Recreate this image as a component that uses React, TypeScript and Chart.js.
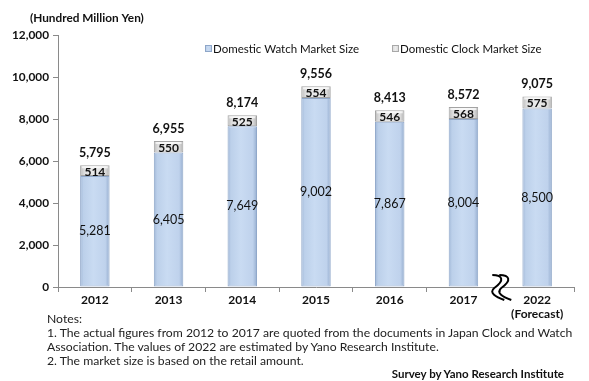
import React, { useEffect, useRef } from "react";
import { Chart, registerables } from "chart.js";

Chart.register(...registerables);

const categories: (string | string[])[] = ["2012", "2013", "2014", "2015", "2016", "2017", ["2022", "(Forecast)"]];
const watchValues = [5281, 6405, 7649, 9002, 7867, 8004, 8500];
const clockValues = [514, 550, 525, 554, 546, 568, 575];
const totalValues = [5795, 6955, 8174, 9556, 8413, 8572, 9075];
const seriesNames = ["Domestic Watch Market Size", "Domestic Clock Market Size"];
const yMin = 0;
const yMax = 12000;
const yStep = 2000;
const yAxisTitle = "(Hundred Million Yen)";
const notes = [
  "Notes:",
  "1. The actual figures from 2012 to 2017 are quoted from the documents in Japan Clock and Watch",
  "Association. The values of 2022 are estimated by Yano Research Institute.",
  "2. The market size is based on the retail amount.",
];
const source = "Survey by Yano Research Institute";

const FONT = "Lato, 'DejaVu Sans', sans-serif";

function fmt(n: number) {
  return n.toLocaleString("en-US");
}

function makeGradient(chart: any, index: number, stops: [number, string][], fallback: string) {
  const xs = chart.scales && chart.scales.x;
  if (!xs || !chart.chartArea) return fallback;
  const cx = xs.getPixelForValue(index);
  const half = 15;
  const g = chart.ctx.createLinearGradient(cx - half, 0, cx + half, 0);
  stops.forEach(([p, c]) => g.addColorStop(p, c));
  return g;
}

const blueStops: [number, string][] = [
  [0, "#9fb6d6"],
  [0.12, "#bcd0ea"],
  [0.45, "#c9dbf2"],
  [0.85, "#bfd2ec"],
  [1, "#93abcd"],
];
const grayStops: [number, string][] = [
  [0, "#b9b9b9"],
  [0.15, "#dedede"],
  [0.5, "#ececec"],
  [0.85, "#dcdcdc"],
  [1, "#adadad"],
];

const labelsPlugin = {
  id: "customLabels",
  afterDatasetsDraw(chart: any) {
    const ctx = chart.ctx;
    const m0 = chart.getDatasetMeta(0);
    const m1 = chart.getDatasetMeta(1);
    ctx.save();
    ctx.textAlign = "center";
    ctx.textBaseline = "middle";
    ctx.fillStyle = "#111";
    m0.data.forEach((bar: any, i: number) => {
      ctx.font = `12.5px ${FONT}`;
      ctx.fillText(fmt(watchValues[i]), bar.x, (bar.y + bar.base) / 2);
    });
    m1.data.forEach((bar: any, i: number) => {
      ctx.fillStyle = "rgba(255,255,255,0.7)";
      ctx.fillRect(bar.x - 13, bar.y + 1, 26, 2);
      ctx.fillStyle = "#111";
      ctx.font = `bold 12px ${FONT}`;
      ctx.fillText(fmt(clockValues[i]), bar.x, (bar.y + bar.base) / 2 + 1);
      ctx.font = `bold 12.5px ${FONT}`;
      ctx.fillText(fmt(totalValues[i]), bar.x, bar.y - 12);
    });
    ctx.restore();
  },
  afterDraw(chart: any) {
    const ctx = chart.ctx;
    ctx.save();
    ctx.fillStyle = "#111";
    ctx.font = `bold 11.8px ${FONT}`;
    ctx.textAlign = "left";
    ctx.textBaseline = "middle";
    ctx.fillText(yAxisTitle, 30, 18);
    const legendItems = [
      { x: 205, text: seriesNames[0], stops: blueStops, border: "#8ea6c8" },
      { x: 392, text: seriesNames[1], stops: grayStops, border: "#a8a8a8" },
    ];
    legendItems.forEach((it) => {
      const g = ctx.createLinearGradient(it.x, 0, it.x + 7, 0);
      it.stops.forEach(([p, c]) => g.addColorStop(p, c));
      ctx.fillStyle = g;
      ctx.fillRect(it.x, 45, 7, 7);
      ctx.strokeStyle = it.border;
      ctx.lineWidth = 1;
      ctx.strokeRect(it.x + 0.5, 45.5, 6, 6);
      ctx.fillStyle = "#111";
      ctx.font = `11.5px ${FONT}`;
      ctx.fillText(it.text, it.x + 8, 49);
    });
    // axis break symbol between the last two categories
    const xs = chart.scales.x;
    const bx = (xs.getPixelForValue(5) + xs.getPixelForValue(6)) / 2 - 2;
    const by = chart.chartArea.bottom;
    const curve = (dx: number) => {
      ctx.beginPath();
      ctx.moveTo(bx - 6 + dx, by - 12);
      ctx.bezierCurveTo(bx + 4 + dx, by - 12, bx + 7 + dx, by - 7, bx - 4 + dx, by + 1);
      ctx.bezierCurveTo(bx - 10 + dx, by + 6, bx - 2 + dx, by + 10, bx + 6 + dx, by + 13);
    };
    ctx.fillStyle = "#fff";
    ctx.fillRect(bx - 2, by - 2, 6, 4);
    ctx.strokeStyle = "#000";
    ctx.lineWidth = 2;
    curve(0);
    ctx.stroke();
    curve(7);
    ctx.stroke();
    ctx.restore();
  },
};

export default function App() {
  const ref = useRef<HTMLCanvasElement | null>(null);
  useEffect(() => {
    if (!ref.current) return;
    const chart = new Chart(ref.current, {
      type: "bar",
      data: {
        labels: categories as any,
        datasets: [
          {
            label: seriesNames[0],
            data: watchValues,
            backgroundColor: (c: any) => makeGradient(c.chart, c.dataIndex, blueStops, "#c5d8f0"),
            borderColor: "#90a8ca",
            borderWidth: 1,
            borderSkipped: false,
            barPercentage: 0.4,
            categoryPercentage: 1,
          },
          {
            label: seriesNames[1],
            data: clockValues,
            backgroundColor: (c: any) => makeGradient(c.chart, c.dataIndex, grayStops, "#e3e3e3"),
            borderColor: "#a3a3a3",
            borderWidth: 1,
            borderSkipped: false,
            barPercentage: 0.4,
            categoryPercentage: 1,
          },
        ],
      },
      options: {
        animation: false,
        responsive: false,
        maintainAspectRatio: false,
        layout: { padding: { left: 0, right: 15, top: 35, bottom: 54 } },
        plugins: {
          legend: { display: false },
          tooltip: { enabled: false },
        },
        scales: {
          x: {
            stacked: true,
            grid: {
              display: true,
              drawOnChartArea: false,
              drawTicks: true,
              tickLength: 5,
              color: "#8a8a8a",
              offset: true,
            },
            border: { display: true, color: "#8a8a8a", width: 1 },
            ticks: {
              color: "#111",
              font: { family: FONT, size: 12, weight: "bold", lineHeight: 1.1 },
              padding: 2,
              maxRotation: 0,
            },
            afterFit: (s: any) => {
              s.height = 40;
            },
          },
          y: {
            stacked: true,
            min: yMin,
            max: yMax,
            grid: {
              display: true,
              drawOnChartArea: false,
              drawTicks: true,
              tickLength: 5,
              color: "#8a8a8a",
            },
            border: { display: true, color: "#8a8a8a", width: 1 },
            ticks: {
              stepSize: yStep,
              color: "#111",
              padding: 4,
              font: { family: FONT, size: 11.8, weight: "bold" },
              callback: (v: any) => fmt(Number(v)),
            },
            afterFit: (s: any) => {
              s.width = 58;
            },
          },
        },
      },
      plugins: [labelsPlugin],
    });
    return () => chart.destroy();
  }, []);

  const noteStyle: React.CSSProperties = {
    position: "absolute",
    left: 47,
    whiteSpace: "nowrap",
    fontFamily: FONT,
    fontSize: 12.2,
    color: "#222",
    lineHeight: "14px",
  };

  return (
    <div style={{ position: "absolute", left: 0, top: 0, width: 589, height: 381, background: "#fff", overflow: "hidden" }}>
      <canvas ref={ref} width={589} height={381} style={{ position: "absolute", left: 0, top: 0, width: 589, height: 381 }} />
      {notes.map((t, i) => (
        <div key={i} style={{ ...noteStyle, top: 312 + i * 14 }}>
          {t}
        </div>
      ))}
      <div
        style={{
          position: "absolute",
          right: 25,
          top: 367,
          whiteSpace: "nowrap",
          fontFamily: FONT,
          fontSize: 11.5,
          fontWeight: "bold",
          color: "#111",
          lineHeight: "14px",
        }}
      >
        {source}
      </div>
    </div>
  );
}
